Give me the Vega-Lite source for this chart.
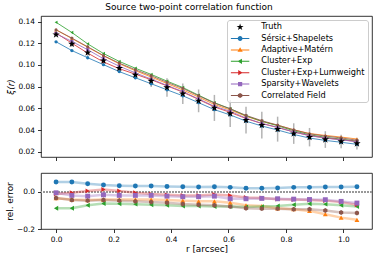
{
  "$schema": "https://vega.github.io/schema/vega-lite/v6.json",
  "autosize": {"type": "pad"},
  "padding": {"left": 5, "top": 2, "right": 6, "bottom": 1},
  "background": "white",
  "title": {"text": "Source two-point correlation function", "fontSize": 9, "fontWeight": "normal", "color": "black", "anchor": "middle", "offset": 4},
  "config": {
    "font": "DejaVu Sans",
    "view": {"stroke": "black", "strokeWidth": 0.8},
    "axis": {"domain": false, "grid": false, "tickColor": "black", "tickSize": 3.5, "tickWidth": 0.8, "labelFontSize": 7.4, "labelColor": "black", "labelPadding": 3, "labelOverlap": false, "labelBound": false, "titleFontSize": 8.9, "titleFontWeight": "normal", "titleColor": "black"},
    "legend": {"orient": "top-right", "offset": 4, "padding": 3, "symbolSize": 36, "symbolOffset": 6, "symbolOpacity": 1, "symbolStrokeWidth": 0, "labelFontSize": 8.2, "labelColor": "black", "labelOffset": 17, "rowPadding": 2.4, "strokeColor": "#cccccc", "fillColor": "rgba(255,255,255,0.8)", "cornerRadius": 2.5, "labelLimit": 200}
  },
  "datasets": {
    "xi": [
      {"r": 0, "method": "Truth", "xi": 0.128, "lo": 0.126, "hi": 0.130},
      {"r": 0.055, "method": "Truth", "xi": 0.1194, "lo": 0.1169, "hi": 0.1219},
      {"r": 0.11, "method": "Truth", "xi": 0.1114, "lo": 0.1084, "hi": 0.1144},
      {"r": 0.165, "method": "Truth", "xi": 0.104, "lo": 0.101, "hi": 0.107},
      {"r": 0.22, "method": "Truth", "xi": 0.097, "lo": 0.0935, "hi": 0.1005},
      {"r": 0.276, "method": "Truth", "xi": 0.0909, "lo": 0.0869, "hi": 0.0949},
      {"r": 0.331, "method": "Truth", "xi": 0.0853, "lo": 0.0798, "hi": 0.0908},
      {"r": 0.386, "method": "Truth", "xi": 0.0793, "lo": 0.0708, "hi": 0.0878},
      {"r": 0.441, "method": "Truth", "xi": 0.0735, "lo": 0.064, "hi": 0.083},
      {"r": 0.496, "method": "Truth", "xi": 0.0669, "lo": 0.0564, "hi": 0.0774},
      {"r": 0.551, "method": "Truth", "xi": 0.0604, "lo": 0.0484, "hi": 0.0724},
      {"r": 0.606, "method": "Truth", "xi": 0.0552, "lo": 0.0427, "hi": 0.0677},
      {"r": 0.661, "method": "Truth", "xi": 0.0491, "lo": 0.0368, "hi": 0.0614},
      {"r": 0.716, "method": "Truth", "xi": 0.0445, "lo": 0.0322, "hi": 0.0568},
      {"r": 0.771, "method": "Truth", "xi": 0.0408, "lo": 0.0293, "hi": 0.0523},
      {"r": 0.827, "method": "Truth", "xi": 0.0367, "lo": 0.0272, "hi": 0.0462},
      {"r": 0.882, "method": "Truth", "xi": 0.0334, "lo": 0.0249, "hi": 0.0419},
      {"r": 0.937, "method": "Truth", "xi": 0.0312, "lo": 0.0235, "hi": 0.0389},
      {"r": 0.992, "method": "Truth", "xi": 0.0294, "lo": 0.0231, "hi": 0.0357},
      {"r": 1.047, "method": "Truth", "xi": 0.0275, "lo": 0.0221, "hi": 0.0329},

      {"r": 0, "method": "Sérsic+Shapelets", "xi": 0.1214, "rel": 0.0515},
      {"r": 0.055, "method": "Sérsic+Shapelets", "xi": 0.1133, "rel": 0.0515},
      {"r": 0.11, "method": "Sérsic+Shapelets", "xi": 0.1067, "rel": 0.0425},
      {"r": 0.165, "method": "Sérsic+Shapelets", "xi": 0.1003, "rel": 0.0355},
      {"r": 0.22, "method": "Sérsic+Shapelets", "xi": 0.0939, "rel": 0.032},
      {"r": 0.276, "method": "Sérsic+Shapelets", "xi": 0.0882, "rel": 0.030},
      {"r": 0.331, "method": "Sérsic+Shapelets", "xi": 0.0827, "rel": 0.030},
      {"r": 0.386, "method": "Sérsic+Shapelets", "xi": 0.0771, "rel": 0.028},
      {"r": 0.441, "method": "Sérsic+Shapelets", "xi": 0.0716, "rel": 0.026},
      {"r": 0.496, "method": "Sérsic+Shapelets", "xi": 0.0652, "rel": 0.025},
      {"r": 0.551, "method": "Sérsic+Shapelets", "xi": 0.0588, "rel": 0.0265},
      {"r": 0.606, "method": "Sérsic+Shapelets", "xi": 0.0539, "rel": 0.023},
      {"r": 0.661, "method": "Sérsic+Shapelets", "xi": 0.0482, "rel": 0.018},
      {"r": 0.716, "method": "Sérsic+Shapelets", "xi": 0.0437, "rel": 0.018},
      {"r": 0.771, "method": "Sérsic+Shapelets", "xi": 0.0400, "rel": 0.0196},
      {"r": 0.827, "method": "Sérsic+Shapelets", "xi": 0.0359, "rel": 0.023},
      {"r": 0.882, "method": "Sérsic+Shapelets", "xi": 0.0326, "rel": 0.023},
      {"r": 0.937, "method": "Sérsic+Shapelets", "xi": 0.0304, "rel": 0.025},
      {"r": 0.992, "method": "Sérsic+Shapelets", "xi": 0.0287, "rel": 0.025},
      {"r": 1.047, "method": "Sérsic+Shapelets", "xi": 0.0268, "rel": 0.0265},

      {"r": 0, "method": "Adaptive+Matérn", "xi": 0.1325, "rel": -0.035},
      {"r": 0.055, "method": "Adaptive+Matérn", "xi": 0.1244, "rel": -0.042},
      {"r": 0.11, "method": "Adaptive+Matérn", "xi": 0.1164, "rel": -0.045},
      {"r": 0.165, "method": "Adaptive+Matérn", "xi": 0.1084, "rel": -0.042},
      {"r": 0.22, "method": "Adaptive+Matérn", "xi": 0.1011, "rel": -0.042},
      {"r": 0.276, "method": "Adaptive+Matérn", "xi": 0.0947, "rel": -0.042},
      {"r": 0.331, "method": "Adaptive+Matérn", "xi": 0.0889, "rel": -0.042},
      {"r": 0.386, "method": "Adaptive+Matérn", "xi": 0.0829, "rel": -0.045},
      {"r": 0.441, "method": "Adaptive+Matérn", "xi": 0.0770, "rel": -0.048},
      {"r": 0.496, "method": "Adaptive+Matérn", "xi": 0.0704, "rel": -0.052},
      {"r": 0.551, "method": "Adaptive+Matérn", "xi": 0.0635, "rel": -0.052},
      {"r": 0.606, "method": "Adaptive+Matérn", "xi": 0.0585, "rel": -0.059},
      {"r": 0.661, "method": "Adaptive+Matérn", "xi": 0.0527, "rel": -0.073},
      {"r": 0.716, "method": "Adaptive+Matérn", "xi": 0.0479, "rel": -0.077},
      {"r": 0.771, "method": "Adaptive+Matérn", "xi": 0.0444, "rel": -0.089},
      {"r": 0.827, "method": "Adaptive+Matérn", "xi": 0.0402, "rel": -0.094},
      {"r": 0.882, "method": "Adaptive+Matérn", "xi": 0.0368, "rel": -0.103},
      {"r": 0.937, "method": "Adaptive+Matérn", "xi": 0.0350, "rel": -0.121},
      {"r": 0.992, "method": "Adaptive+Matérn", "xi": 0.0335, "rel": -0.139},
      {"r": 1.047, "method": "Adaptive+Matérn", "xi": 0.0317, "rel": -0.151},

      {"r": 0, "method": "Cluster+Exp", "xi": 0.1394, "rel": -0.089},
      {"r": 0.055, "method": "Cluster+Exp", "xi": 0.1300, "rel": -0.089},
      {"r": 0.11, "method": "Cluster+Exp", "xi": 0.1195, "rel": -0.073},
      {"r": 0.165, "method": "Cluster+Exp", "xi": 0.1106, "rel": -0.063},
      {"r": 0.22, "method": "Cluster+Exp", "xi": 0.1033, "rel": -0.065},
      {"r": 0.276, "method": "Cluster+Exp", "xi": 0.0970, "rel": -0.067},
      {"r": 0.331, "method": "Cluster+Exp", "xi": 0.0913, "rel": -0.07},
      {"r": 0.386, "method": "Cluster+Exp", "xi": 0.0851, "rel": -0.073},
      {"r": 0.441, "method": "Cluster+Exp", "xi": 0.0792, "rel": -0.077},
      {"r": 0.496, "method": "Cluster+Exp", "xi": 0.0721, "rel": -0.077},
      {"r": 0.551, "method": "Cluster+Exp", "xi": 0.0652, "rel": -0.08},
      {"r": 0.606, "method": "Cluster+Exp", "xi": 0.0596, "rel": -0.08},
      {"r": 0.661, "method": "Cluster+Exp", "xi": 0.0531, "rel": -0.082},
      {"r": 0.716, "method": "Cluster+Exp", "xi": 0.0481, "rel": -0.08},
      {"r": 0.771, "method": "Cluster+Exp", "xi": 0.0439, "rel": -0.077},
      {"r": 0.827, "method": "Cluster+Exp", "xi": 0.0393, "rel": -0.07},
      {"r": 0.882, "method": "Cluster+Exp", "xi": 0.0356, "rel": -0.065},
      {"r": 0.937, "method": "Cluster+Exp", "xi": 0.0333, "rel": -0.067},
      {"r": 0.992, "method": "Cluster+Exp", "xi": 0.0316, "rel": -0.073},
      {"r": 1.047, "method": "Cluster+Exp", "xi": 0.0297, "rel": -0.08},

      {"r": 0, "method": "Cluster+Exp+Lumweight", "xi": 0.1295, "rel": -0.012},
      {"r": 0.055, "method": "Cluster+Exp+Lumweight", "xi": 0.1201, "rel": -0.006},
      {"r": 0.11, "method": "Cluster+Exp+Lumweight", "xi": 0.1110, "rel": 0.004},
      {"r": 0.165, "method": "Cluster+Exp+Lumweight", "xi": 0.1028, "rel": 0.012},
      {"r": 0.22, "method": "Cluster+Exp+Lumweight", "xi": 0.0966, "rel": 0.004},
      {"r": 0.276, "method": "Cluster+Exp+Lumweight", "xi": 0.0915, "rel": -0.006},
      {"r": 0.331, "method": "Cluster+Exp+Lumweight", "xi": 0.0864, "rel": -0.013},
      {"r": 0.386, "method": "Cluster+Exp+Lumweight", "xi": 0.0807, "rel": -0.017},
      {"r": 0.441, "method": "Cluster+Exp+Lumweight", "xi": 0.0750, "rel": -0.02},
      {"r": 0.496, "method": "Cluster+Exp+Lumweight", "xi": 0.0682, "rel": -0.02},
      {"r": 0.551, "method": "Cluster+Exp+Lumweight", "xi": 0.0613, "rel": -0.015},
      {"r": 0.606, "method": "Cluster+Exp+Lumweight", "xi": 0.0563, "rel": -0.02},
      {"r": 0.661, "method": "Cluster+Exp+Lumweight", "xi": 0.0506, "rel": -0.031},
      {"r": 0.716, "method": "Cluster+Exp+Lumweight", "xi": 0.0460, "rel": -0.034},
      {"r": 0.771, "method": "Cluster+Exp+Lumweight", "xi": 0.0424, "rel": -0.04},
      {"r": 0.827, "method": "Cluster+Exp+Lumweight", "xi": 0.0382, "rel": -0.042},
      {"r": 0.882, "method": "Cluster+Exp+Lumweight", "xi": 0.0349, "rel": -0.045},
      {"r": 0.937, "method": "Cluster+Exp+Lumweight", "xi": 0.0327, "rel": -0.048},
      {"r": 0.992, "method": "Cluster+Exp+Lumweight", "xi": 0.0311, "rel": -0.056},
      {"r": 1.047, "method": "Cluster+Exp+Lumweight", "xi": 0.0294, "rel": -0.07},

      {"r": 0, "method": "Sparsity+Wavelets", "xi": 0.1288, "rel": -0.006},
      {"r": 0.055, "method": "Sparsity+Wavelets", "xi": 0.1218, "rel": -0.02},
      {"r": 0.11, "method": "Sparsity+Wavelets", "xi": 0.1141, "rel": -0.024},
      {"r": 0.165, "method": "Sparsity+Wavelets", "xi": 0.1058, "rel": -0.017},
      {"r": 0.22, "method": "Sparsity+Wavelets", "xi": 0.0989, "rel": -0.02},
      {"r": 0.276, "method": "Sparsity+Wavelets", "xi": 0.0927, "rel": -0.02},
      {"r": 0.331, "method": "Sparsity+Wavelets", "xi": 0.0870, "rel": -0.02},
      {"r": 0.386, "method": "Sparsity+Wavelets", "xi": 0.0812, "rel": -0.024},
      {"r": 0.441, "method": "Sparsity+Wavelets", "xi": 0.0755, "rel": -0.027},
      {"r": 0.496, "method": "Sparsity+Wavelets", "xi": 0.0687, "rel": -0.027},
      {"r": 0.551, "method": "Sparsity+Wavelets", "xi": 0.0619, "rel": -0.024},
      {"r": 0.606, "method": "Sparsity+Wavelets", "xi": 0.0573, "rel": -0.038},
      {"r": 0.661, "method": "Sparsity+Wavelets", "xi": 0.0510, "rel": -0.038},
      {"r": 0.716, "method": "Sparsity+Wavelets", "xi": 0.0461, "rel": -0.036},
      {"r": 0.771, "method": "Sparsity+Wavelets", "xi": 0.0424, "rel": -0.038},
      {"r": 0.827, "method": "Sparsity+Wavelets", "xi": 0.0382, "rel": -0.04},
      {"r": 0.882, "method": "Sparsity+Wavelets", "xi": 0.0348, "rel": -0.042},
      {"r": 0.937, "method": "Sparsity+Wavelets", "xi": 0.0325, "rel": -0.043},
      {"r": 0.992, "method": "Sparsity+Wavelets", "xi": 0.0309, "rel": -0.052},
      {"r": 1.047, "method": "Sparsity+Wavelets", "xi": 0.0292, "rel": -0.061},

      {"r": 0, "method": "Correlated Field", "xi": 0.1324, "rel": -0.034},
      {"r": 0.055, "method": "Correlated Field", "xi": 0.1248, "rel": -0.045},
      {"r": 0.11, "method": "Correlated Field", "xi": 0.1168, "rel": -0.048},
      {"r": 0.165, "method": "Correlated Field", "xi": 0.1087, "rel": -0.045},
      {"r": 0.22, "method": "Correlated Field", "xi": 0.1017, "rel": -0.048},
      {"r": 0.276, "method": "Correlated Field", "xi": 0.0956, "rel": -0.052},
      {"r": 0.331, "method": "Correlated Field", "xi": 0.0901, "rel": -0.056},
      {"r": 0.386, "method": "Correlated Field", "xi": 0.0840, "rel": -0.059},
      {"r": 0.441, "method": "Correlated Field", "xi": 0.0784, "rel": -0.066},
      {"r": 0.496, "method": "Correlated Field", "xi": 0.0716, "rel": -0.07},
      {"r": 0.551, "method": "Correlated Field", "xi": 0.0648, "rel": -0.073},
      {"r": 0.606, "method": "Correlated Field", "xi": 0.0596, "rel": -0.08},
      {"r": 0.661, "method": "Correlated Field", "xi": 0.0535, "rel": -0.089},
      {"r": 0.716, "method": "Correlated Field", "xi": 0.0486, "rel": -0.091},
      {"r": 0.771, "method": "Correlated Field", "xi": 0.0445, "rel": -0.091},
      {"r": 0.827, "method": "Correlated Field", "xi": 0.0402, "rel": -0.094},
      {"r": 0.882, "method": "Correlated Field", "xi": 0.0365, "rel": -0.094},
      {"r": 0.937, "method": "Correlated Field", "xi": 0.0344, "rel": -0.101},
      {"r": 0.992, "method": "Correlated Field", "xi": 0.0327, "rel": -0.112},
      {"r": 1.047, "method": "Correlated Field", "xi": 0.0306, "rel": -0.114}
    ]
  },
  "spacing": 10,
  "resolve": {"scale": {"color": "independent", "shape": "independent"}},
  "vconcat": [
    {
      "width": 331,
      "height": 141,
      "data": {"name": "xi"},
      "resolve": {"scale": {"color": "independent", "shape": "independent"}},
      "layer": [
        {
          "transform": [{"filter": "datum.method === 'Truth'"}],
          "mark": {"type": "rule", "color": "#b3b3b3", "strokeWidth": 1.5},
          "encoding": {
            "x": {"field": "r", "type": "quantitative", "title": null, "scale": {"domain": [-0.0524, 1.0994], "nice": false, "zero": false}, "axis": {"values": [0, 0.2, 0.4, 0.6, 0.8, 1.0], "tickCount": 12, "labels": false}},
            "y": {"field": "lo", "type": "quantitative", "title": "ξ(r)", "scale": {"domain": [0.0151, 0.1452], "nice": false, "zero": false}, "axis": {"values": [0.02, 0.04, 0.06, 0.08, 0.1, 0.12, 0.14], "tickCount": 14, "format": ".2f", "titlePadding": 3, "titleFontStyle": "italic"}},
            "y2": {"field": "hi"}
          }
        },
        {
          "transform": [{"filter": "datum.method !== 'Truth'"}],
          "mark": {"type": "line", "strokeWidth": 1, "opacity": 0.8},
          "encoding": {
            "x": {"field": "r", "type": "quantitative", "title": null},
            "y": {"field": "xi", "type": "quantitative", "title": "ξ(r)"},
            "color": {"field": "method", "type": "nominal", "legend": null, "scale": {"domain": ["Truth", "Sérsic+Shapelets", "Adaptive+Matérn", "Cluster+Exp", "Cluster+Exp+Lumweight", "Sparsity+Wavelets", "Correlated Field"], "range": ["#000000", "#1f77b4", "#ff7f0e", "#2ca02c", "#d62728", "#9467bd", "#8c564b"]}}
          }
        },
        {
          "transform": [{"filter": "datum.method !== 'Truth'"}],
          "mark": {"type": "point", "filled": true, "opacity": 1, "size": 11},
          "encoding": {
            "x": {"field": "r", "type": "quantitative", "title": null},
            "y": {"field": "xi", "type": "quantitative", "title": "ξ(r)"},
            "color": {"field": "method", "type": "nominal", "legend": null, "scale": {"domain": ["Truth", "Sérsic+Shapelets", "Adaptive+Matérn", "Cluster+Exp", "Cluster+Exp+Lumweight", "Sparsity+Wavelets", "Correlated Field"], "range": ["#000000", "#1f77b4", "#ff7f0e", "#2ca02c", "#d62728", "#9467bd", "#8c564b"]}},
            "shape": {"field": "method", "type": "nominal", "legend": null, "scale": {"domain": ["Truth", "Sérsic+Shapelets", "Adaptive+Matérn", "Cluster+Exp", "Cluster+Exp+Lumweight", "Sparsity+Wavelets", "Correlated Field"], "range": ["M0,-1L0.2245,-0.309L0.951,-0.309L0.3633,0.118L0.588,0.809L0,0.382L-0.588,0.809L-0.3633,0.118L-0.951,-0.309L-0.2245,-0.309Z", "circle", "triangle-up", "triangle-left", "triangle-right", "square", "M0,-1L0.866,-0.5L0.866,0.5L0,1L-0.866,0.5L-0.866,-0.5Z"]}}
          }
        },
        {
          "transform": [{"filter": "datum.method === 'Truth'"}],
          "mark": {"type": "point", "filled": true, "color": "black", "opacity": 1, "size": 60, "shape": "M0,-1L0.2245,-0.309L0.951,-0.309L0.3633,0.118L0.588,0.809L0,0.382L-0.588,0.809L-0.3633,0.118L-0.951,-0.309L-0.2245,-0.309Z"},
          "encoding": {
            "x": {"field": "r", "type": "quantitative", "title": null},
            "y": {"field": "xi", "type": "quantitative", "title": "ξ(r)"}
          }
        },
        {
          "mark": {"type": "point", "filled": true, "opacity": 0},
          "encoding": {
            "x": {"field": "r", "type": "quantitative", "title": null},
            "y": {"field": "xi", "type": "quantitative", "title": "ξ(r)"},
            "color": {"field": "method", "type": "nominal", "legend": {"title": null}, "scale": {"domain": ["Truth", "Sérsic+Shapelets", "Adaptive+Matérn", "Cluster+Exp", "Cluster+Exp+Lumweight", "Sparsity+Wavelets", "Correlated Field"], "range": ["#000000", "#1f77b4", "#ff7f0e", "#2ca02c", "#d62728", "#9467bd", "#8c564b"]}},
            "shape": {"field": "method", "type": "nominal", "legend": {"title": null}, "scale": {"domain": ["Truth", "Sérsic+Shapelets", "Adaptive+Matérn", "Cluster+Exp", "Cluster+Exp+Lumweight", "Sparsity+Wavelets", "Correlated Field"], "range": [
              "M0,-1.23L0.275,-0.38L1.17,-0.38L0.447,0.145L0.723,0.995L0,0.47L-0.723,0.995L-0.447,0.145L-1.17,-0.38L-0.275,-0.38Z",
              "M-3.07,-0.17H3.07V0.17H-3.07ZM0.8,0A0.8,0.8 0 1,1 -0.8,0A0.8,0.8 0 1,1 0.8,0Z",
              "M-3.07,-0.17H3.07V0.17H-3.07ZM0,-0.88L0.88,0.62L-0.88,0.62Z",
              "M-3.07,-0.17H3.07V0.17H-3.07ZM-0.88,0L0.62,-0.88L0.62,0.88Z",
              "M-3.07,-0.17H3.07V0.17H-3.07ZM0.88,0L-0.62,0.88L-0.62,-0.88Z",
              "M-3.07,-0.17H3.07V0.17H-3.07ZM-0.7,-0.7H0.7V0.7H-0.7Z",
              "M-3.07,-0.17H3.07V0.17H-3.07ZM0,-0.85L0.74,-0.43L0.74,0.43L0,0.85L-0.74,0.43L-0.74,-0.43Z"
            ]}}
          }
        }
      ]
    },
    {
      "width": 331,
      "height": 56,
      "data": {"name": "xi"},
      "resolve": {"scale": {"color": "independent", "shape": "independent"}},
      "layer": [
        {
          "mark": {"type": "rule", "color": "#999999", "strokeWidth": 1, "strokeDash": [1.5, 1.5]},
          "encoding": {
            "y": {"datum": 0, "type": "quantitative", "title": "rel. error", "scale": {"domain": [-0.2, 0.1], "nice": false, "zero": false}, "axis": {"values": [-0.2, 0], "tickCount": 4, "format": ".1f", "titlePadding": 2}}
          }
        },
        {
          "transform": [{"filter": "datum.method !== 'Truth'"}],
          "mark": {"type": "line", "strokeWidth": 2.5, "opacity": 0.35},
          "encoding": {
            "x": {"field": "r", "type": "quantitative", "title": "r [arcsec]", "scale": {"domain": [-0.0524, 1.0994], "nice": false, "zero": false}, "axis": {"values": [0, 0.2, 0.4, 0.6, 0.8, 1.0], "tickCount": 12, "format": ".1f", "titlePadding": 2}},
            "y": {"field": "rel", "type": "quantitative", "title": "rel. error"},
            "color": {"field": "method", "type": "nominal", "legend": null, "scale": {"domain": ["Truth", "Sérsic+Shapelets", "Adaptive+Matérn", "Cluster+Exp", "Cluster+Exp+Lumweight", "Sparsity+Wavelets", "Correlated Field"], "range": ["#000000", "#1f77b4", "#ff7f0e", "#2ca02c", "#d62728", "#9467bd", "#8c564b"]}}
          }
        },
        {
          "transform": [{"filter": "datum.method !== 'Truth'"}],
          "mark": {"type": "point", "filled": true, "opacity": 1, "size": 24},
          "encoding": {
            "x": {"field": "r", "type": "quantitative", "title": "r [arcsec]"},
            "y": {"field": "rel", "type": "quantitative", "title": "rel. error"},
            "color": {"field": "method", "type": "nominal", "legend": null, "scale": {"domain": ["Truth", "Sérsic+Shapelets", "Adaptive+Matérn", "Cluster+Exp", "Cluster+Exp+Lumweight", "Sparsity+Wavelets", "Correlated Field"], "range": ["#000000", "#1f77b4", "#ff7f0e", "#2ca02c", "#d62728", "#9467bd", "#8c564b"]}},
            "shape": {"field": "method", "type": "nominal", "legend": null, "scale": {"domain": ["Truth", "Sérsic+Shapelets", "Adaptive+Matérn", "Cluster+Exp", "Cluster+Exp+Lumweight", "Sparsity+Wavelets", "Correlated Field"], "range": ["M0,-1L0.2245,-0.309L0.951,-0.309L0.3633,0.118L0.588,0.809L0,0.382L-0.588,0.809L-0.3633,0.118L-0.951,-0.309L-0.2245,-0.309Z", "circle", "triangle-up", "triangle-left", "triangle-right", "square", "M0,-1L0.866,-0.5L0.866,0.5L0,1L-0.866,0.5L-0.866,-0.5Z"]}}
          }
        }
      ]
    }
  ]
}
